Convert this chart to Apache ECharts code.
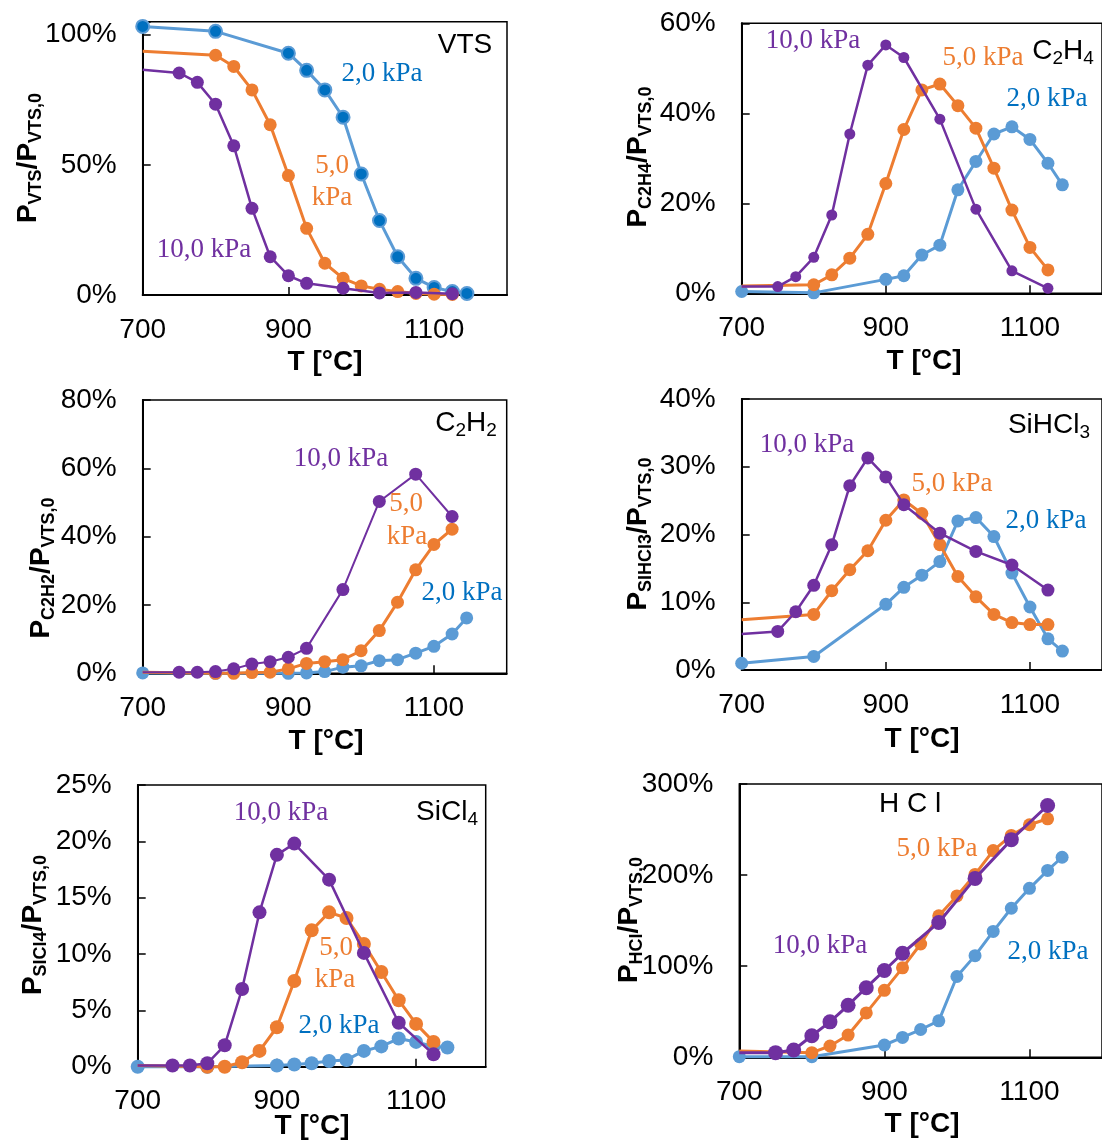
<!DOCTYPE html>
<html><head><meta charset="utf-8">
<script src="https://cdn.jsdelivr.net/npm/echarts@6/dist/echarts.min.js"></script>
<style>html,body{margin:0;padding:0;background:#fff}#c{width:1102px;height:1143px}</style>
</head><body><div id="c"></div>
<script>
// ---------- DATA ----------
const T_BLUE   = [700,800,900,925,950,975,1000,1025,1050,1075,1100,1125,1145];           // 2,0 kPa
const T_ORANGE = [700,800,825,850,875,900,925,950,975,1000,1025,1050,1075,1100,1125];   // 5,0 kPa
const T_PURPLE = [700,750,775,800,825,850,875,900,925,975,1025,1075,1125];              // 10,0 kPa

const VTS_2  = [103.2,101.3,92.9,86.3,78.8,68.3,46.5,28.6,14.7,6.4,2.9,1.3,0.6];
const VTS_5  = [93.6,92.1,87.8,78.8,65.4,45.9,25.6,12.2,6.4,3.5,2.2,1.3,0.6,0.3,0.2];
const VTS_10 = [86.5,85.3,81.7,73.3,57.3,33.3,14.7,7.4,4.5,2.6,0.8,1.0,0.5];

const C2H4_2  = [0.4,0.1,3.1,3.9,8.5,10.7,23.0,29.3,35.4,37.0,34.2,28.9,24.1];
const C2H4_5  = [1.6,1.9,4.1,7.8,13.1,24.4,36.4,45.2,46.5,41.7,36.7,27.8,18.5,10.2,5.2];
const C2H4_10 = [1.5,1.5,3.7,8.0,17.4,35.4,50.7,55.2,52.4,38.7,18.7,5.0,1.1];

const C2H2_2  = [0.1,0,0,0.1,0.5,1.8,2.2,3.7,4.0,5.9,7.9,11.5,16.2];
const C2H2_5  = [0.3,0,0,0.2,0.3,1.3,2.9,3.4,4.0,6.6,12.5,20.8,30.3,37.7,42.2];
const C2H2_10 = [0.3,0.3,0.3,0.5,1.3,2.7,3.4,4.7,7.3,24.5,50.3,58.3,45.9];

const SIHCL3_2  = [1.0,2.0,9.7,12.2,14.0,16.0,22.0,22.5,19.7,14.3,9.3,4.6,2.8];
const SIHCL3_5  = [7.4,8.2,11.7,14.8,17.6,22.1,25.1,23.1,18.5,13.8,10.8,8.2,7.0,6.7,6.7];
const SIHCL3_10 = [5.3,5.7,8.6,12.5,18.5,27.2,31.3,28.5,24.4,20.2,17.5,15.5,11.8];

const SICL4_2  = [0,0,0.1,0.2,0.3,0.5,0.6,1.4,1.8,2.5,2.2,1.8,1.7];
const SICL4_5  = [0.1,0,0,0.4,1.4,3.5,7.6,12.1,13.7,13.2,10.9,8.4,5.9,3.8,2.2];
const SICL4_10 = [0.1,0.1,0.1,0.3,1.9,6.9,13.7,18.8,19.8,16.6,10.1,3.9,1.1];

const HCL_2  = [0.7,0.7,13.5,21.8,30.5,40.0,88.7,111.6,138.2,163.6,185.5,205.1,219.6];
const HCL_5  = [6.9,5.1,12.4,24.4,48.7,73.5,98.2,124.4,155.3,177.1,200.7,226.9,243.6,255.3,261.8];
const HCL_10 = [5.1,5.1,8.0,23.6,38.9,57.1,76.4,95.3,114.2,148.0,196.4,238.9,276.4];

const X_TICKS = [700, 900, 1100];
const SERIES_LABELS = ['2,0 kPa', '5,0 kPa', '10,0 kPa'];

// ---------- LAYOUT / STYLE ----------
const SANS = 'Liberation Sans, Arial, sans-serif';
const SERIF = 'Liberation Serif, Times New Roman, serif';
const BLUE = '#5B9BD5', DBLUE = '#0070C0', ORANGE = '#ED7D31', PURPLE = '#7030A0';

const PANELS = [
  {data:[VTS_2,VTS_5,VTS_10], grid:{left:142.7, top:21.7, width:364.3, height:273.3}, ymax:105, yint:50,
   sizes:[13,13,13], widths:[3,3,2.5], darkBlue:true,
   title:{x:465,y:45,text:'{m|VTS}'},
   ylab:{x:28,y:158,text:'{p|P}{s|VTS}{p|/P}{s|VTS,0}'}, xlab:{x:325,y:362},
   notes:[{x:382,y:74,t:'2,0 kPa',c:DBLUE},{x:332,y:166,t:'5,0',c:ORANGE},{x:332,y:198,t:'kPa',c:ORANGE},{x:204,y:250,t:'10,0 kPa',c:PURPLE}]},
  {data:[C2H4_2,C2H4_5,C2H4_10], grid:{left:741.7, top:23.3, width:366.7, height:270}, ymax:60, yint:20,
   sizes:[13,13,11], widths:[3,3,2.5],
   title:{x:1063,y:51,text:'{m|C}{s|2}{m|H}{s|4}'},
   ylab:{x:638,y:157,text:'{p|P}{s|C2H4}{p|/P}{s|VTS,0}'}, xlab:{x:924,y:361},
   notes:[{x:813,y:41,t:'10,0 kPa',c:PURPLE},{x:983,y:58,t:'5,0 kPa',c:ORANGE},{x:1047,y:99,t:'2,0 kPa',c:DBLUE}]},
  {data:[C2H2_2,C2H2_5,C2H2_10], grid:{left:142.7, top:400, width:364, height:273.3}, ymax:80, yint:20,
   sizes:[13,13,13], widths:[3,3,2],
   title:{x:466,y:423,text:'{m|C}{s|2}{m|H}{s|2}'},
   ylab:{x:41,y:568,text:'{p|P}{s|C2H2}{p|/P}{s|VTS,0}'}, xlab:{x:326,y:741},
   notes:[{x:341,y:459,t:'10,0 kPa',c:PURPLE},{x:406,y:504,t:'5,0',c:ORANGE},{x:407,y:537,t:'kPa',c:ORANGE},{x:462,y:593,t:'2,0 kPa',c:DBLUE}]},
  {data:[SIHCL3_2,SIHCL3_5,SIHCL3_10], grid:{left:741.7, top:399, width:366.7, height:271}, ymax:40, yint:10,
   sizes:[13,13,13], widths:[3,3,2.5],
   title:{x:1049,y:425,text:'{m|SiHCl}{s|3}'},
   ylab:{x:638,y:534,text:'{p|P}{s|SIHCl3}{p|/P}{s|VTS,0}'}, xlab:{x:922,y:739},
   notes:[{x:807,y:445,t:'10,0 kPa',c:PURPLE},{x:952,y:484,t:'5,0 kPa',c:ORANGE},{x:1046,y:521,t:'2,0 kPa',c:DBLUE}]},
  {data:[SICL4_2,SICL4_5,SICL4_10], grid:{left:137.7, top:785, width:348, height:281.7}, ymax:25, yint:5,
   sizes:[14,14,14], widths:[3,3,2.5],
   title:{x:447,y:812,text:'{m|SiCl}{s|4}'},
   ylab:{x:33,y:925,text:'{p|P}{s|SICl4}{p|/P}{s|VTS,0}'}, xlab:{x:312,y:1126},
   notes:[{x:281,y:813,t:'10,0 kPa',c:PURPLE},{x:336,y:948,t:'5,0',c:ORANGE},{x:335,y:980,t:'kPa',c:ORANGE},{x:339,y:1026,t:'2,0 kPa',c:DBLUE}]},
  {data:[HCL_2,HCL_5,HCL_10], grid:{left:739.3, top:784, width:364, height:273.3}, ymax:300, yint:100,
   sizes:[13,13,15], widths:[3,3,3],
   title:{x:910,y:804,text:'{m|H C l}'},
   ylab:{x:629,y:920,text:'{p|P}{s|HCl}{p|/P}{s|VTS,0}'}, xlab:{x:922,y:1124},
   notes:[{x:937,y:849,t:'5,0 kPa',c:ORANGE},{x:820,y:946,t:'10,0 kPa',c:PURPLE},{x:1048,y:952,t:'2,0 kPa',c:DBLUE}]}
];

const T_SETS = [T_BLUE, T_ORANGE, T_PURPLE];
const COLORS = [BLUE, ORANGE, PURPLE];
const HIDE_FIRST = [false, true, true];

const grids = [], xAxes = [], yAxes = [], series = [], graphics = [];

PANELS.forEach((p, i) => {
  grids.push(Object.assign({show:true, borderColor:'#000', borderWidth:1.5, backgroundColor:'transparent'}, p.grid));
  xAxes.push({
    type:'value', gridIndex:i, min:700, max:1200, interval:200,
    axisLine:{show:true, onZero:false, lineStyle:{color:'#000', width:2}},
    axisTick:{show:true, inside:true, length:8, lineStyle:{color:'#000', width:1.5}},
    splitLine:{show:false},
    axisLabel:{show:true, showMaxLabel:false, margin:21, color:'#000', fontSize:28, fontFamily:SANS,
      formatter: v => X_TICKS.indexOf(v) >= 0 ? String(v) : ''}
  });
  yAxes.push({
    type:'value', gridIndex:i, min:0, max:p.ymax, interval:p.yint,
    axisLine:{show:true, onZero:false, lineStyle:{color:'#000', width:2}},
    axisTick:{show:true, inside:true, length:8, lineStyle:{color:'#000', width:1.5}},
    splitLine:{show:false},
    axisLabel:{show:true, margin:26, color:'#000', fontSize:28, fontFamily:SANS,
      formatter: v => (Math.abs(v % p.yint) < 1e-9) ? v + '%' : ''}
  });
  [0,1,2].forEach(k => {
    const ts = T_SETS[k], vals = p.data[k];
    const d = ts.map((t, j) => (HIDE_FIRST[k] && j === 0) ? {value:[t, vals[j]], symbol:'none'} : [t, vals[j]]);
    const isDark = p.darkBlue && k === 0;
    series.push({
      type:'line', name:SERIES_LABELS[k], xAxisIndex:i, yAxisIndex:i, data:d,
      symbol:'circle', symbolSize:p.sizes[k], showAllSymbol:true, clip:false, z:2+k,
      lineStyle:{color:COLORS[k], width:p.widths[k]},
      itemStyle: isDark ? {color:DBLUE, borderColor:BLUE, borderWidth:2} : {color:COLORS[k], borderWidth:0},
      emphasis:{disabled:true}, animation:false
    });
  });
  graphics.push({type:'text', x:p.title.x, y:p.title.y, z:100, style:{
    text:p.title.text, align:'center', verticalAlign:'middle',
    rich:{m:{fontSize:28, fontFamily:SANS, fill:'#000', lineHeight:34},
          s:{fontSize:19, fontFamily:SANS, fill:'#000', lineHeight:20, verticalAlign:'bottom'}}}});
  graphics.push({type:'text', x:p.ylab.x, y:p.ylab.y, rotation:Math.PI/2, z:100, style:{
    text:p.ylab.text, align:'center', verticalAlign:'middle',
    rich:{p:{fontSize:28, fontWeight:'bold', fontFamily:SANS, fill:'#000', lineHeight:34},
          s:{fontSize:18, fontWeight:'bold', fontFamily:SANS, fill:'#000', lineHeight:20, verticalAlign:'bottom'}}}});
  graphics.push({type:'text', x:p.xlab.x, y:p.xlab.y, z:100, style:{
    text:'T [°C]', align:'center', verticalAlign:'middle', fontSize:28, fontWeight:'bold', fontFamily:SANS, fill:'#000'}});
  p.notes.forEach(n => graphics.push({type:'text', x:n.x, y:n.y, z:100, style:{
    text:n.t, align:'center', verticalAlign:'middle', fontSize:27, fontFamily:SERIF, fill:n.c}}));
});

const chart = echarts.init(document.getElementById('c'), null, {renderer:'canvas'});
chart.setOption({
  animation:false, backgroundColor:'#fff',
  grid:grids, xAxis:xAxes, yAxis:yAxes, series:series, graphic:graphics
});
</script></body></html>
